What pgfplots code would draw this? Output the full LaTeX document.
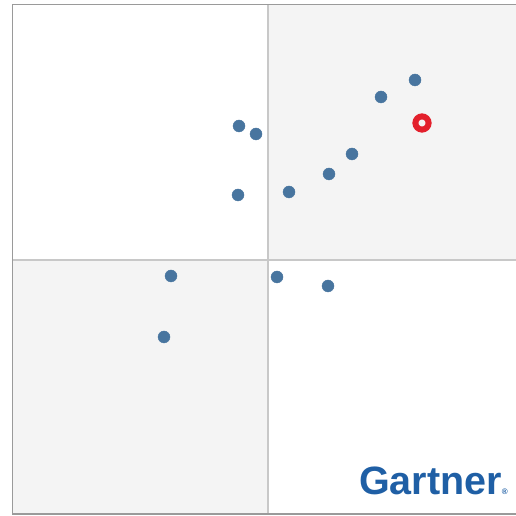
\documentclass[border=0pt]{standalone}
\usepackage{pgfplots}
\pgfplotsset{compat=1.18}
\usepackage{fontspec}
\setmainfont{Liberation Sans}
\definecolor{dotblue}{HTML}{48759F}
\definecolor{ringred}{HTML}{E3202C}
\definecolor{quadgray}{HTML}{F4F4F4}
\definecolor{framegray}{HTML}{9A9A9A}
\definecolor{divgray}{HTML}{C8C8C8}
\definecolor{gblue}{HTML}{1F5FA5}
\begin{document}
\begin{tikzpicture}
\begin{axis}[
    width=516pt, height=516pt, scale only axis,
    xmin=0, xmax=516, ymin=0, ymax=516,
    hide axis]
    % full canvas, keeps the white margin at left and top
    \fill[white] (rel axis cs:0,0) rectangle (rel axis cs:1,1);
    % quadrants
    \fill[quadgray] (axis cs:268,256) rectangle (axis cs:530,511.5);
    \fill[quadgray] (axis cs:12.5,2) rectangle (axis cs:268,256);
    \draw[divgray, line width=1.5pt] (axis cs:268,2) -- (axis cs:268,511.5);
    \draw[divgray, line width=1.5pt] (axis cs:12.5,256) -- (axis cs:530,256);
    \draw[framegray, line width=1.6pt] (axis cs:530,2) -- (axis cs:12.5,2) -- (axis cs:12.5,511.5) -- (axis cs:530,511.5);
    \addplot[only marks, mark=*, mark size=6pt, mark options={draw=dotblue, fill=dotblue}] coordinates {
        (239,390) (256,382) (381,419) (415,436) (352,362) (329,342)
        (289,324) (238,321) (171,240) (277,239) (328,230) (164,179)
    };
    \addplot[only marks, mark=o, mark size=6.6pt, mark options={draw=ringred, line width=6pt}] coordinates {
        (422,393)
    };
    \node[anchor=base west, inner sep=0pt, text=gblue, font=\bfseries\fontsize{39.5}{40}\selectfont]
        at (axis cs:359,21) {Gartner\fontsize{8}{8}\selectfont\raisebox{0pt}{®}};
\end{axis}
\end{tikzpicture}
\end{document}
